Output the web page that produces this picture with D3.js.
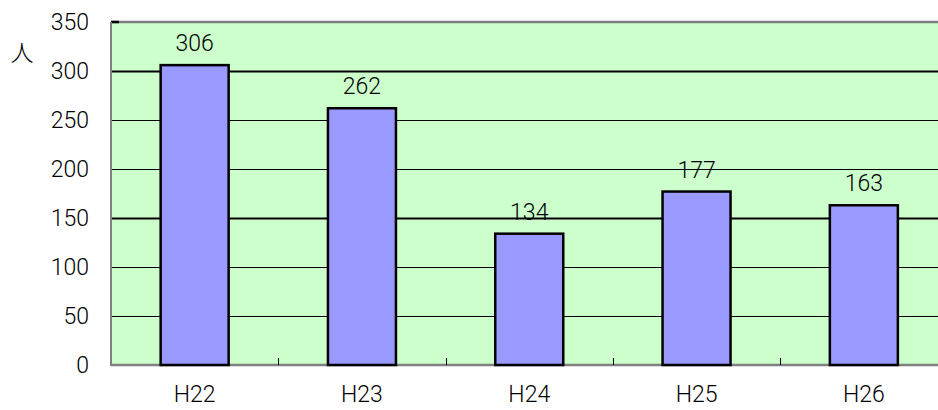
<!DOCTYPE html>
<html>
<head>
<meta charset="utf-8">
<script src="https://cdn.jsdelivr.net/npm/d3@7"></script>
<style>
  html, body { margin: 0; padding: 0; background: #fff; }
  svg { display: block; }
  text { font-family: Roboto, "Liberation Sans", Arial, sans-serif; font-weight: 300; fill: #000; }
</style>
</head>
<body>
<svg id="chart" width="938" height="410"></svg>
<script>
// Annual counts by fiscal year
const years = ["H22", "H23", "H24", "H25", "H26"];
const counts = [306, 262, 134, 177, 163];
const yTicks = [0, 50, 100, 150, 200, 250, 300, 350];
const unitLabel = "人";

const svg = d3.select("#chart");
const plot = { left: 111, right: 947.5, top: 22, bottom: 365 };

const x = d3.scaleBand().domain(years).range([plot.left, plot.right]).padding(0);
const y = d3.scaleLinear().domain([0, 350]).range([plot.bottom, plot.top]);
const barW = 68;

// plot background
svg.append("rect")
  .attr("x", plot.left).attr("y", plot.top)
  .attr("width", plot.right - plot.left).attr("height", plot.bottom - plot.top)
  .attr("fill", "#CCFFCC");

// horizontal gridlines
svg.append("g").selectAll("line")
  .data(yTicks.filter(d => d > 0 && d < 350))
  .join("line")
  .attr("x1", plot.left).attr("x2", plot.right)
  .attr("y1", d => Math.round(y(d)) + 0.5).attr("y2", d => Math.round(y(d)) + 0.5)
  .attr("stroke", "#000")
  .attr("stroke-width", d => (d === 300 || d === 150) ? 2 : 1);

// plot frame: top and bottom edges, left axis
svg.append("line")
  .attr("x1", plot.left).attr("x2", plot.right)
  .attr("y1", plot.top).attr("y2", plot.top)
  .attr("stroke", "#808080").attr("stroke-width", 2.5);
svg.append("line")
  .attr("x1", plot.left).attr("x2", plot.left + 8)
  .attr("y1", plot.top).attr("y2", plot.top)
  .attr("stroke", "#000").attr("stroke-width", 2.5);
svg.append("line")
  .attr("x1", plot.left).attr("x2", plot.right)
  .attr("y1", plot.bottom).attr("y2", plot.bottom)
  .attr("stroke", "#808080").attr("stroke-width", 2.5);
svg.append("line")
  .attr("x1", plot.left).attr("x2", plot.left)
  .attr("y1", plot.top).attr("y2", plot.bottom + 1)
  .attr("stroke", "#808080").attr("stroke-width", 2);

// category separator ticks along the bottom
svg.append("g").selectAll("line")
  .data(years.slice(1))
  .join("line")
  .attr("x1", d => Math.round(x(d)) + 0.5).attr("x2", d => Math.round(x(d)) + 0.5)
  .attr("y1", plot.bottom - 7).attr("y2", plot.bottom)
  .attr("stroke", "#000").attr("stroke-width", 1);

// bars
svg.append("g").selectAll("rect")
  .data(years.map((k, i) => ({ k, v: counts[i] })))
  .join("rect")
  .attr("x", d => x(d.k) + x.bandwidth() / 2 - barW / 2)
  .attr("y", d => y(d.v))
  .attr("width", barW)
  .attr("height", d => y(0) - y(d.v))
  .attr("fill", "#9999FF")
  .attr("stroke", "#000")
  .attr("stroke-width", 2.5);

// value labels
svg.append("g").selectAll("text")
  .data(years.map((k, i) => ({ k, v: counts[i] })))
  .join("text")
  .attr("x", d => x(d.k) + x.bandwidth() / 2)
  .attr("y", d => y(d.v) - 14)
  .attr("text-anchor", "middle")
  .attr("font-size", 23)
  .text(d => d.v);

// y tick labels
svg.append("g").selectAll("text")
  .data(yTicks)
  .join("text")
  .attr("x", 89)
  .attr("y", d => y(d))
  .attr("dy", "0.36em")
  .attr("text-anchor", "end")
  .attr("font-size", 23)
  .text(d => d);

// x category labels
svg.append("g").selectAll("text")
  .data(years)
  .join("text")
  .attr("x", d => x(d) + x.bandwidth() / 2)
  .attr("y", 402)
  .attr("text-anchor", "middle")
  .attr("font-size", 23)
  .text(d => d);

// unit label
svg.append("text")
  .attr("x", 22).attr("y", 53)
  .attr("dy", "0.36em")
  .attr("text-anchor", "middle")
  .attr("font-size", 23)
  .style("font-family", "'Noto Sans CJK JP', sans-serif")
  .style("font-weight", 300)
  .text(unitLabel);
</script>
</body>
</html>
